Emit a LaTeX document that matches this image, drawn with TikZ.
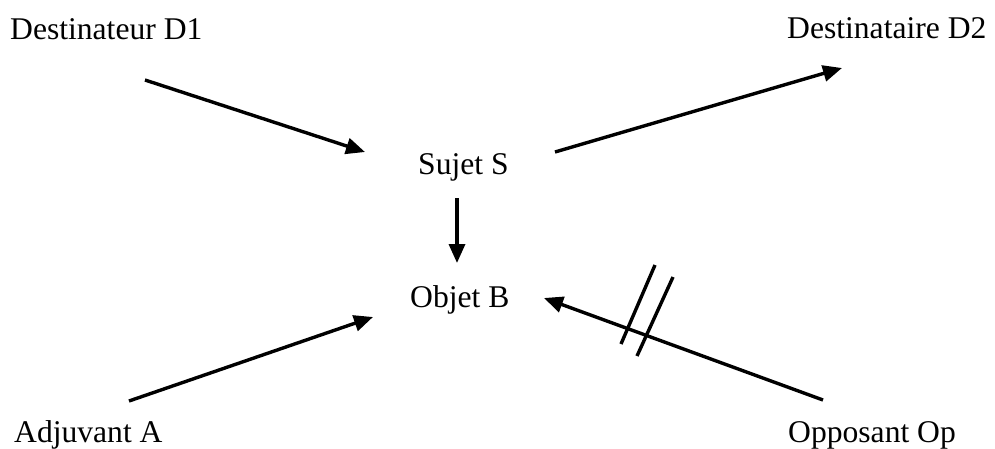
\documentclass[tikz,border=0pt]{standalone}
\usepackage{fontspec}
\setmainfont{Liberation Serif}
\usetikzlibrary{arrows.meta}
\begin{document}
\begin{tikzpicture}[x=1pt,y=-1pt,
  lbl/.style={anchor=base west,inner sep=0pt,font=\fontsize{31.6}{36}\selectfont},
  arr/.style={line width=3.4pt,-{Triangle[length=19pt,width=16pt]}},
  bar/.style={line width=3.4pt}]
\useasboundingbox (0,0) rectangle (995,448);
\node[lbl] (d1) at (10,39) {Destinateur D1};
\node[lbl] (d2) at (787,38) {Destinataire D2};
\node[lbl] (s) at (418,174) {Sujet S};
\node[lbl] (b) at (410,307) {Objet B};
\node[lbl] (a) at (14,442) {Adjuvant A};
\node[lbl] (op) at (788,442) {Opposant Op};
\coordinate (d1s) at (145,80);
\coordinate (d1e) at (365,152);
\coordinate (d2s) at (555,152);
\coordinate (d2e) at (842,68);
\coordinate (ss) at (457,198);
\coordinate (se) at (457,263);
\coordinate (as) at (129,401);
\coordinate (ae) at (373,317);
\coordinate (ops) at (823,400);
\coordinate (ope) at (544,298);
\coordinate (k1a) at (655,265);
\coordinate (k1b) at (621,344);
\coordinate (k2a) at (673,277);
\coordinate (k2b) at (637,356);
\draw[arr] (d1s) -- (d1e);
\draw[arr] (d2s) -- (d2e);
\draw[arr] (ss) -- (se);
\draw[arr] (as) -- (ae);
\draw[arr] (ops) -- (ope);
\draw[bar] (k1a) -- (k1b);
\draw[bar] (k2a) -- (k2b);
\end{tikzpicture}
\end{document}
